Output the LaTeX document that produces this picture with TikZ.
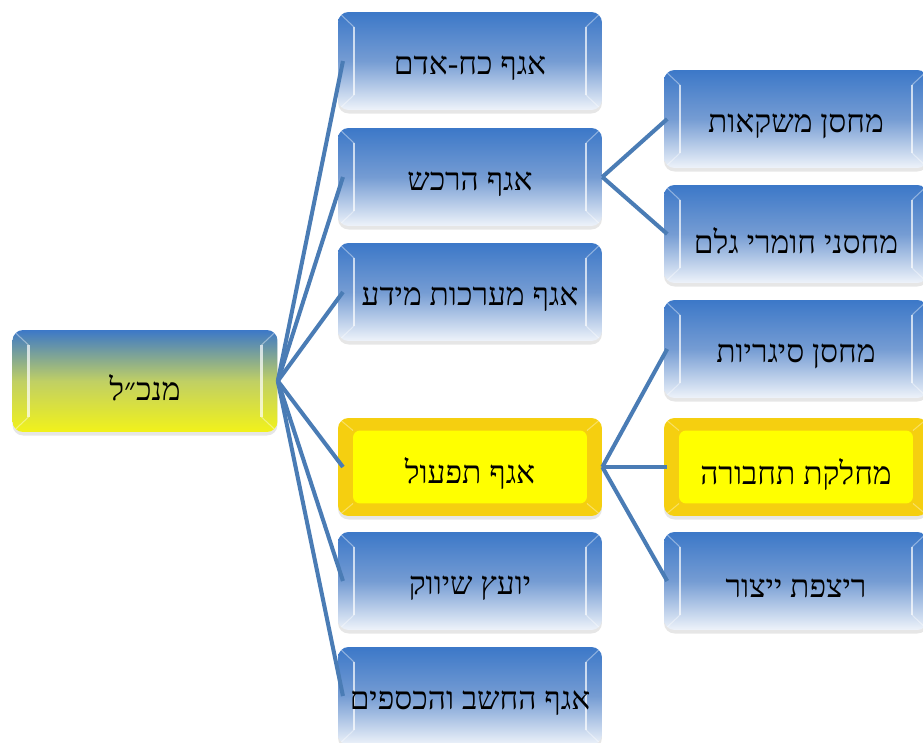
\documentclass[tikz,border=0pt]{standalone}
\usepackage{fontspec}
\newfontfamily\hebfont[Script=Hebrew]{Liberation Serif}
\TeXXeTstate=1
\usetikzlibrary{shadows}
\newcommand{\heb}[1]{\raisebox{-4pt}[\height][\depth]{\hebfont\beginR #1\endR}}
\definecolor{boxblue}{HTML}{3C78C8}
\definecolor{boxmid}{HTML}{759CD3}
\definecolor{boxpale}{HTML}{EEF3FA}
\definecolor{boxgold}{HTML}{F5CF10}
\definecolor{boxyellow}{HTML}{FFFF00}
\definecolor{rootyellow}{HTML}{F2F21A}
\definecolor{linkblue}{HTML}{4A7CB5}
\tikzset{
  bevel/.style={path picture={
    \draw[white,opacity=.7,line width=1.2pt] ([shift={(.32cm,-.3cm)}]path picture bounding box.north west) -- ([shift={(.32cm,.3cm)}]path picture bounding box.south west) ([shift={(-.32cm,-.3cm)}]path picture bounding box.north east) -- ([shift={(-.32cm,.3cm)}]path picture bounding box.south east);
    \draw[white,opacity=.4,line width=.6pt] (path picture bounding box.north west) -- ++(.32cm,-.3cm) (path picture bounding box.south west) -- ++(.32cm,.3cm) (path picture bounding box.north east) -- ++(-.32cm,-.3cm) (path picture bounding box.south east) -- ++(-.32cm,.3cm);}},
  unit/.style={rounded corners=6pt,minimum width=5.28cm,minimum height=1.96cm,inner sep=2pt,font=\fontsize{18}{21}\selectfont,drop shadow={opacity=.2,shadow xshift=0pt,shadow yshift=-2pt}},
  bluebox/.style={unit,top color=boxblue,bottom color=boxpale,middle color=boxmid,bevel},
  yellowbox/.style={unit,fill=boxgold,path picture={
    \fill[boxyellow,rounded corners=4pt] ([shift={(.3cm,-.25cm)}]path picture bounding box.north west) rectangle ([shift={(-.3cm,.25cm)}]path picture bounding box.south east);
    \draw[white,opacity=.35,line width=.6pt] (path picture bounding box.north west) -- ++(.3cm,-.25cm) (path picture bounding box.south west) -- ++(.3cm,.25cm) (path picture bounding box.north east) -- ++(-.3cm,-.25cm) (path picture bounding box.south east) -- ++(-.3cm,.25cm);}},
  rootbox/.style={unit,minimum width=5.3cm,minimum height=2.04cm,top color=boxblue,bottom color=rootyellow,middle color=boxmid!40!rootyellow,bevel},
  link/.style={draw=linkblue,line width=2.3pt}
}
\begin{document}
\begin{tikzpicture}[x=0.02cm,y=-0.02cm]
	\useasboundingbox (0,0) rectangle (923,743);
	\clip (0,0) rectangle (923,743);

	%root
	\node[rootbox] (gm) at (145,381) {\heb{מנכ״ל}};

	%departments
	\node[bluebox] (hr) at (470,61) {\heb{אגף כח-אדם}}; %manpower
	\node[bluebox] (buy) at (470,177) {\heb{אגף הרכש}}; %purchasing
	\node[bluebox] (it) at (470,292) {\heb{אגף מערכות מידע}}; %information systems
	\node[yellowbox] (ops) at (470,467) {\heb{אגף תפעול}}; %operations
	\node[bluebox] (mkt) at (470,581) {\heb{יועץ שיווק}}; %marketing
	\node[bluebox] (fin) at (470,696) {\heb{אגף החשב והכספים}}; %finance

	%sub units
	\node[bluebox] (drinks) at (796,119) {\heb{מחסן משקאות}};
	\node[bluebox] (raw) at (796,234) {\heb{מחסני חומרי גלם}};
	\node[bluebox] (cig) at (796,349) {\heb{מחסן סיגריות}};
	\node[yellowbox] (trans) at (796,467) {\heb{מחלקת תחבורה}};
	\node[bluebox] (floor) at (796,581) {\heb{ריצפת ייצור}};

	%links
	\foreach \d in {hr,buy,it,ops,mkt,fin}
		\draw[link] (gm.east) -- ([xshift=3pt]\d.west);
	\foreach \s in {drinks,raw}
		\draw[link] (buy.east) -- ([xshift=2pt]\s.west);
	\foreach \s in {cig,trans,floor}
		\draw[link] (ops.east) -- ([xshift=2pt]\s.west);
\end{tikzpicture}
\end{document}
